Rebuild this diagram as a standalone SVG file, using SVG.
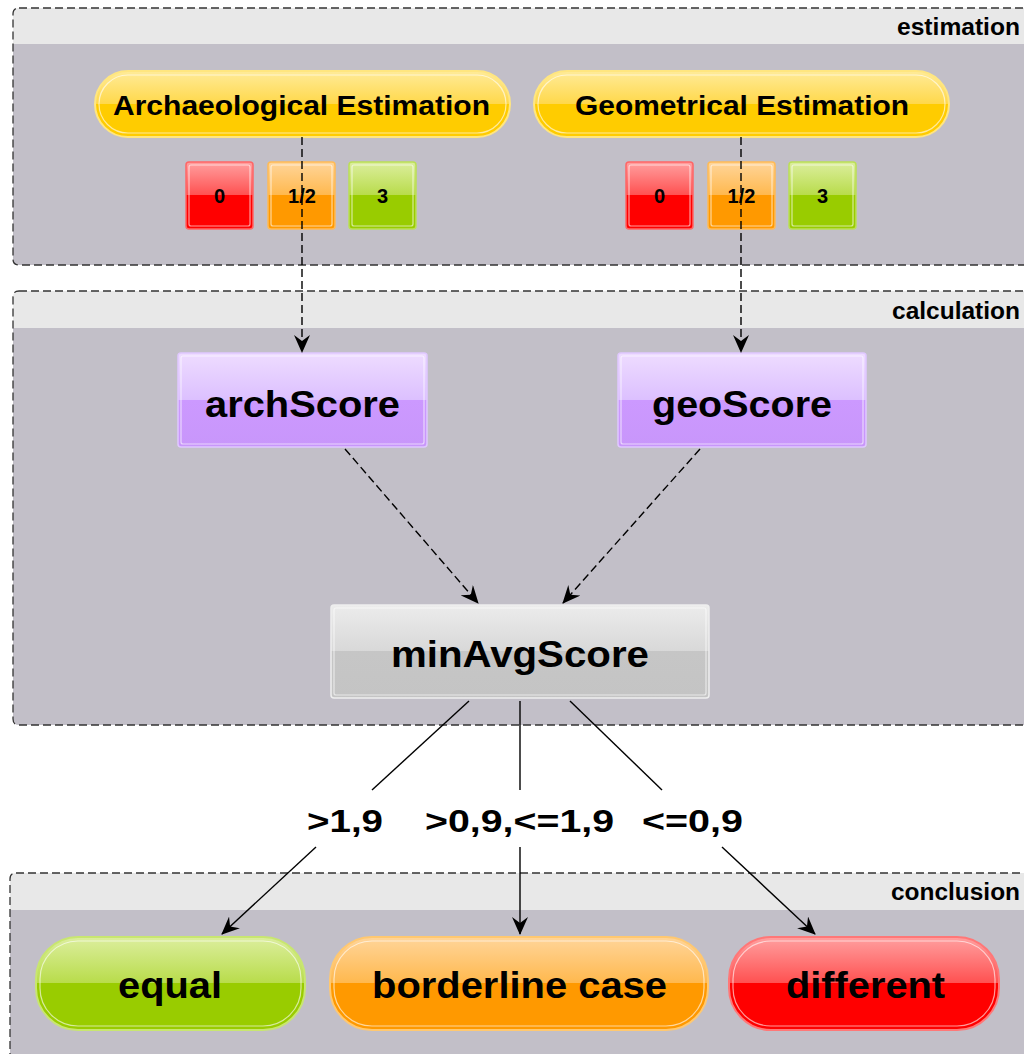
<svg xmlns="http://www.w3.org/2000/svg" width="1024" height="1054" viewBox="0 0 1024 1054">
  <defs>
    <linearGradient id="gYellow" x1="0" y1="0" x2="0" y2="1">
      <stop offset="0" stop-color="#ffeb99"/><stop offset="0.5" stop-color="#ffd84a"/><stop offset="0.5" stop-color="#ffcc00"/><stop offset="1" stop-color="#ffcc00"/>
    </linearGradient>
    <linearGradient id="gRed" x1="0" y1="0" x2="0" y2="1">
      <stop offset="0" stop-color="#ffa0a0"/><stop offset="0.5" stop-color="#ff5050"/><stop offset="0.5" stop-color="#ff0000"/><stop offset="1" stop-color="#ff0000"/>
    </linearGradient>
    <linearGradient id="gOrange" x1="0" y1="0" x2="0" y2="1">
      <stop offset="0" stop-color="#ffd59a"/><stop offset="0.5" stop-color="#ffb84d"/><stop offset="0.5" stop-color="#ff9900"/><stop offset="1" stop-color="#ff9900"/>
    </linearGradient>
    <linearGradient id="gGreen" x1="0" y1="0" x2="0" y2="1">
      <stop offset="0" stop-color="#dcee9e"/><stop offset="0.5" stop-color="#b8dc4a"/><stop offset="0.5" stop-color="#99cc00"/><stop offset="1" stop-color="#99cc00"/>
    </linearGradient>
    <linearGradient id="gPurple" x1="0" y1="0" x2="0" y2="1">
      <stop offset="0" stop-color="#eedcff"/><stop offset="0.5" stop-color="#dcc0ff"/><stop offset="0.5" stop-color="#cc99ff"/><stop offset="1" stop-color="#c896fa"/>
    </linearGradient>
    <linearGradient id="gGray" x1="0" y1="0" x2="0" y2="1">
      <stop offset="0" stop-color="#ececec"/><stop offset="0.5" stop-color="#d8d8d8"/><stop offset="0.5" stop-color="#c6c6c6"/><stop offset="1" stop-color="#c4c4c4"/>
    </linearGradient>
    <marker id="arrow" viewBox="0 0 18 16" refX="17" refY="8" markerWidth="18" markerHeight="16" markerUnits="userSpaceOnUse" orient="auto">
      <path d="M0,0 L18,8 L0,16 L6,8 Z" fill="#000"/>
    </marker>
  </defs>
  <style>
    .lane-body { fill: #c2bfc8; }
    .lane-head { fill: #e8e8e8; }
    .lane-border { fill: none; stroke: #333; stroke-width: 1.3; stroke-dasharray: 8 4; }
    .lane-title { font-family: "Liberation Sans", Arial, sans-serif; font-weight: bold; font-size: 23px; fill: #000; }
    .inner { fill: none; stroke: #fff; stroke-opacity: 0.6; stroke-width: 1.2; }
    .label { font-family: "Liberation Sans", Arial, sans-serif; font-weight: bold; fill: #000; }
    .digit { font-family: "Liberation Sans", Arial, sans-serif; font-weight: bold; font-size: 20px; fill: #000; text-anchor: middle; }
    .dashed { fill: none; stroke: #000; stroke-width: 1.4; stroke-dasharray: 8 4; }
    .solid { fill: none; stroke: #000; stroke-width: 1.4; }
  </style>

  <rect width="1024" height="1054" fill="#ffffff"/>

  <!-- swimlanes -->
  <g id="lane-estimation">
    <path class="lane-body" d="M13,44 H1030 V265 H19 Q13,265 13,259 Z"/>
    <path class="lane-head" d="M19,8 H1030 V44 H13 V14 Q13,8 19,8 Z"/>
    <path class="lane-border" d="M19,8 H1030 V265 H19 Q13,265 13,259 V14 Q13,8 19,8 Z"/>
    <text class="lane-title" x="897" y="35" textLength="123" lengthAdjust="spacingAndGlyphs">estimation</text>
  </g>
  <g id="lane-calculation">
    <path class="lane-body" d="M13,328 H1030 V725 H19 Q13,725 13,719 Z"/>
    <path class="lane-head" d="M19,291 H1030 V328 H13 V297 Q13,291 19,291 Z"/>
    <path class="lane-border" d="M19,291 H1030 V725 H19 Q13,725 13,719 V297 Q13,291 19,291 Z"/>
    <text class="lane-title" x="892" y="319" textLength="128" lengthAdjust="spacingAndGlyphs">calculation</text>
  </g>
  <g id="lane-conclusion">
    <path class="lane-body" d="M10,910 H1030 V1060 H10 Z"/>
    <path class="lane-head" d="M16,873 H1030 V910 H10 V879 Q10,873 16,873 Z"/>
    <path class="lane-border" d="M16,873 H1030 V1060 H10 V879 Q10,873 16,873 Z"/>
    <text class="lane-title" x="891" y="900" textLength="129" lengthAdjust="spacingAndGlyphs">conclusion</text>
  </g>

  <!-- estimation nodes -->
  <g id="arch-estimation">
    <rect x="95" y="71" width="415" height="66" rx="33" fill="url(#gYellow)" stroke="#ffe680" stroke-width="2"/>
    <rect x="99" y="75" width="407" height="58" rx="29" class="inner"/>
    <text class="label" x="113" y="115" font-size="28" textLength="377" lengthAdjust="spacingAndGlyphs">Archaeological Estimation</text>
  </g>
  <g id="geo-estimation">
    <rect x="534" y="71" width="415" height="66" rx="33" fill="url(#gYellow)" stroke="#ffe680" stroke-width="2"/>
    <rect x="538" y="75" width="407" height="58" rx="29" class="inner"/>
    <text class="label" x="575" y="115" font-size="28" textLength="334" lengthAdjust="spacingAndGlyphs">Geometrical Estimation</text>
  </g>

  <g id="arch-value-0">
    <rect x="186" y="162" width="67" height="67" rx="3" fill="url(#gRed)" stroke="#ff6666" stroke-width="1.5"/>
    <rect x="189" y="165" width="61" height="61" rx="2" class="inner"/>
    <text class="digit" x="219.5" y="203">0</text>
  </g>
  <g id="arch-value-12">
    <rect x="268" y="162" width="67" height="67" rx="3" fill="url(#gOrange)" stroke="#ffbb55" stroke-width="1.5"/>
    <rect x="271" y="165" width="61" height="61" rx="2" class="inner"/>
    <text class="digit" x="302" y="203">1/2</text>
  </g>
  <g id="arch-value-3">
    <rect x="349" y="162" width="67" height="67" rx="3" fill="url(#gGreen)" stroke="#bbe055" stroke-width="1.5"/>
    <rect x="352" y="165" width="61" height="61" rx="2" class="inner"/>
    <text class="digit" x="382.5" y="203">3</text>
  </g>
  <g id="geo-value-0">
    <rect x="626" y="162" width="67" height="67" rx="3" fill="url(#gRed)" stroke="#ff6666" stroke-width="1.5"/>
    <rect x="629" y="165" width="61" height="61" rx="2" class="inner"/>
    <text class="digit" x="659.5" y="203">0</text>
  </g>
  <g id="geo-value-12">
    <rect x="708" y="162" width="67" height="67" rx="3" fill="url(#gOrange)" stroke="#ffbb55" stroke-width="1.5"/>
    <rect x="711" y="165" width="61" height="61" rx="2" class="inner"/>
    <text class="digit" x="741.5" y="203">1/2</text>
  </g>
  <g id="geo-value-3">
    <rect x="789" y="162" width="67" height="67" rx="3" fill="url(#gGreen)" stroke="#bbe055" stroke-width="1.5"/>
    <rect x="792" y="165" width="61" height="61" rx="2" class="inner"/>
    <text class="digit" x="822.5" y="203">3</text>
  </g>

  <!-- calculation nodes -->
  <g id="arch-score">
    <rect x="178" y="353" width="249" height="94" rx="3" fill="url(#gPurple)" stroke="#e0c8ff" stroke-width="1.5"/>
    <rect x="181" y="356" width="243" height="88" rx="2" class="inner"/>
    <text class="label" x="205" y="417" font-size="37" textLength="195" lengthAdjust="spacingAndGlyphs">archScore</text>
  </g>
  <g id="geo-score">
    <rect x="618" y="353" width="248" height="94" rx="3" fill="url(#gPurple)" stroke="#e0c8ff" stroke-width="1.5"/>
    <rect x="621" y="356" width="242" height="88" rx="2" class="inner"/>
    <text class="label" x="652" y="417" font-size="37" textLength="180" lengthAdjust="spacingAndGlyphs">geoScore</text>
  </g>
  <g id="min-avg-score">
    <rect x="331" y="605" width="378" height="93" rx="3" fill="url(#gGray)" stroke="#eeeeee" stroke-width="1.5"/>
    <rect x="334" y="608" width="372" height="87" rx="2" class="inner"/>
    <text class="label" x="391" y="667" font-size="37" textLength="258" lengthAdjust="spacingAndGlyphs">minAvgScore</text>
  </g>

  <!-- conclusion nodes -->
  <g id="equal">
    <rect x="36" y="937" width="269" height="93" rx="42" fill="url(#gGreen)" stroke="#c8e670" stroke-width="2"/>
    <rect x="40" y="941" width="261" height="85" rx="38" class="inner"/>
    <text class="label" x="118" y="998" font-size="37" textLength="104" lengthAdjust="spacingAndGlyphs">equal</text>
  </g>
  <g id="borderline-case">
    <rect x="330" y="937" width="378" height="93" rx="42" fill="url(#gOrange)" stroke="#ffc870" stroke-width="2"/>
    <rect x="334" y="941" width="370" height="85" rx="38" class="inner"/>
    <text class="label" x="372" y="998" font-size="37" textLength="295" lengthAdjust="spacingAndGlyphs">borderline case</text>
  </g>
  <g id="different">
    <rect x="729" y="937" width="270" height="93" rx="42" fill="url(#gRed)" stroke="#ff7777" stroke-width="2"/>
    <rect x="733" y="941" width="262" height="85" rx="38" class="inner"/>
    <text class="label" x="786" y="998" font-size="37" textLength="159" lengthAdjust="spacingAndGlyphs">different</text>
  </g>

  <!-- connectors -->
  <g id="connectors">
    <line class="dashed" x1="302" y1="137" x2="302" y2="352" marker-end="url(#arrow)"/>
    <line class="dashed" x1="741" y1="137" x2="741" y2="352" marker-end="url(#arrow)"/>
    <line class="dashed" x1="345" y1="449" x2="478" y2="603" marker-end="url(#arrow)"/>
    <line class="dashed" x1="700" y1="449" x2="563" y2="603" marker-end="url(#arrow)"/>

    <line class="solid" x1="469" y1="701" x2="372" y2="790"/>
    <line class="solid" x1="520" y1="701" x2="520" y2="790"/>
    <line class="solid" x1="570" y1="701" x2="662" y2="790"/>
    <line class="solid" x1="316" y1="847" x2="222" y2="934" marker-end="url(#arrow)"/>
    <line class="solid" x1="520" y1="847" x2="520" y2="934" marker-end="url(#arrow)"/>
    <line class="solid" x1="722" y1="847" x2="815" y2="934" marker-end="url(#arrow)"/>

    <text class="label" x="307" y="832" font-size="32" textLength="76" lengthAdjust="spacingAndGlyphs">&gt;1,9</text>
    <text class="label" x="425" y="832" font-size="32" textLength="189" lengthAdjust="spacingAndGlyphs">&gt;0,9,&lt;=1,9</text>
    <text class="label" x="642" y="832" font-size="32" textLength="101" lengthAdjust="spacingAndGlyphs">&lt;=0,9</text>
  </g>
</svg>
